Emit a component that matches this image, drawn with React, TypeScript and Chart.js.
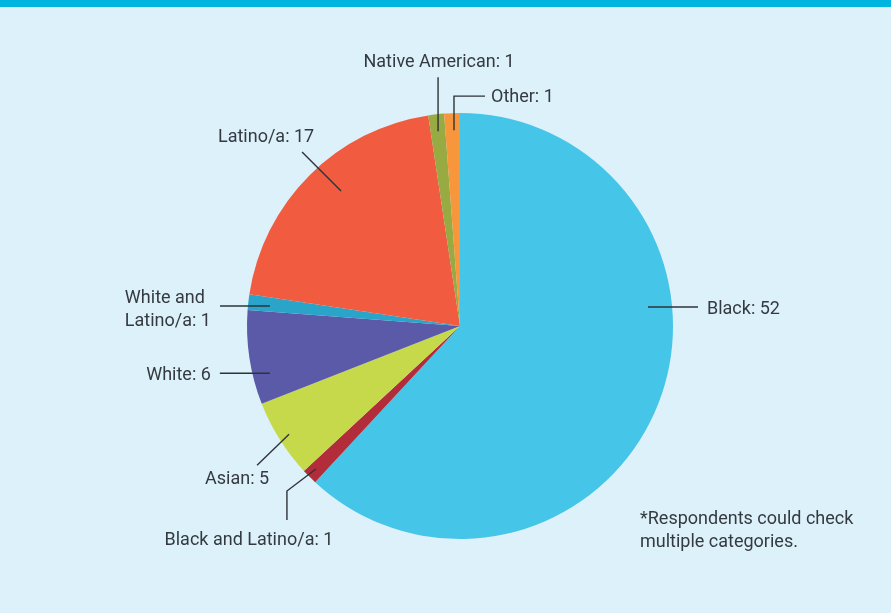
import React, { useEffect, useRef } from "react";
import { Chart, registerables } from "chart.js";

Chart.register(...registerables);

const categories = [
  "Black",
  "Black and Latino/a",
  "Asian",
  "White",
  "White and Latino/a",
  "Latino/a",
  "Native American",
  "Other",
];
const values = [52, 1, 5, 6, 1, 17, 1, 1];
const colors = ["#45c5e8", "#b22c3a", "#c6d94b", "#5b5aa8", "#2ba4c9", "#f15c41", "#98aa42", "#f7963a"];
const labelTexts = [
  ["Black: 52"],
  ["Black and Latino/a: 1"],
  ["Asian: 5"],
  ["White: 6"],
  ["White and", "Latino/a: 1"],
  ["Latino/a: 17"],
  ["Native American: 1"],
  ["Other: 1"],
];
const footnote = ["*Respondents could check", "multiple categories."];

// leader line styling: t = position within slice, rf = radius fraction,
// path = relative segments, label = placement relative to final point
type Spec = { t: number; rf: number; path: [number, number][]; align: string; dx: number; dy: number };
const specs: Spec[] = [
  { t: 0.378, rf: 0.887, path: [[50, 0]], align: "left", dx: 9, dy: 2 },
  { t: 0.55, rf: 0.953, path: [[-29, 22], [0, 29]], align: "center", dx: -38, dy: 21 },
  { t: 0.49, rf: 0.95, path: [[-32, 31]], align: "center", dx: -20, dy: 14 },
  { t: 0.29, rf: 0.92, path: [[-50, 0]], align: "right", dx: -9, dy: 2 },
  { t: 0.4, rf: 0.897, path: [[-50, 0]], align: "blockright", dx: -9, dy: 4 },
  { t: 0.55, rf: 0.845, path: [[-39, -39]], align: "center", dx: -36, dy: -14 },
  { t: 0.5, rf: 0.92, path: [[0, -54]], align: "center", dx: 1, dy: -15 },
  { t: 0.59, rf: 0.92, path: [[0, -34], [31, 0]], align: "left", dx: 6, dy: 1 },
];

const FONT = "18px Roboto, 'DejaVu Sans', sans-serif";
const TEXT = "#353a40";

const bgPlugin = {
  id: "bg",
  beforeDraw(chart: any) {
    const { ctx, width, height } = chart;
    ctx.save();
    ctx.fillStyle = "#dcf1fa";
    ctx.fillRect(0, 0, width, height);
    ctx.fillStyle = "#00b4e0";
    ctx.fillRect(0, 0, width, 7);
    ctx.restore();
  },
};

const labelPlugin = {
  id: "leaderLabels",
  afterDatasetsDraw(chart: any) {
    const { ctx } = chart;
    const meta = chart.getDatasetMeta(0);
    ctx.save();
    ctx.font = FONT;
    ctx.fillStyle = TEXT;
    ctx.strokeStyle = "#2e3338";
    ctx.lineWidth = 1.4;
    meta.data.forEach((arc: any, i: number) => {
      const s = specs[i];
      const p = arc.getProps(["x", "y", "startAngle", "endAngle", "outerRadius"], true);
      const a = p.startAngle + s.t * (p.endAngle - p.startAngle);
      let x = p.x + Math.cos(a) * p.outerRadius * s.rf;
      let y = p.y + Math.sin(a) * p.outerRadius * s.rf;
      ctx.beginPath();
      ctx.moveTo(x, y);
      s.path.forEach(([dx, dy]) => {
        x += dx;
        y += dy;
        ctx.lineTo(x, y);
      });
      ctx.stroke();
      const lines = labelTexts[i];
      const lh = 23;
      const lx = x + s.dx;
      const ly = y + s.dy - ((lines.length - 1) * lh) / 2;
      ctx.textBaseline = "middle";
      if (s.align === "blockright") {
        const w = Math.max(...lines.map((l) => ctx.measureText(l).width));
        ctx.textAlign = "left";
        lines.forEach((l, k) => ctx.fillText(l, lx - w, ly + k * lh));
      } else {
        ctx.textAlign = s.align;
        lines.forEach((l, k) => ctx.fillText(l, lx, ly + k * lh));
      }
    });
    ctx.textAlign = "left";
    ctx.textBaseline = "middle";
    footnote.forEach((l, k) => ctx.fillText(l, 640, 519 + k * 23));
    ctx.restore();
  },
};

export default function App() {
  const ref = useRef<HTMLCanvasElement>(null);
  useEffect(() => {
    document.body.style.margin = "0";
    const chart = new Chart(ref.current!, {
      type: "pie",
      data: {
        labels: categories,
        datasets: [
          {
            data: values,
            backgroundColor: colors,
            borderWidth: 0,
          },
        ],
      },
      options: {
        animation: false,
        responsive: false,
        events: [],
        layout: { padding: { left: 247, right: 218, top: 113, bottom: 74 } },
        plugins: {
          legend: { display: false },
          tooltip: { enabled: false },
        },
      },
      plugins: [bgPlugin, labelPlugin],
    });
    return () => chart.destroy();
  }, []);
  return (
    <div style={{ width: 891, height: 613 }}>
      <canvas ref={ref} width={891} height={613} style={{ display: "block" }} />
    </div>
  );
}
